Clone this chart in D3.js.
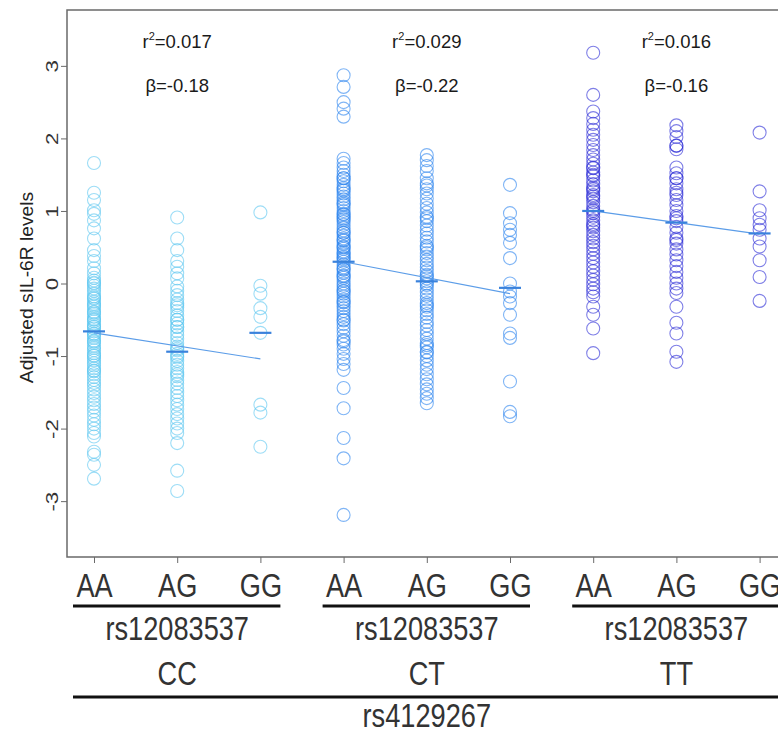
<!DOCTYPE html>
<html>
<head>
<meta charset="utf-8">
<script src="https://cdn.jsdelivr.net/npm/d3@7"></script>
<style>
  body { margin: 0; background: #fff; }
  svg { display: block; }
</style>
</head>
<body>
<div id="chart"></div>
<script>
// rs4129267 groups, rs12083537 genotypes inside each group
const groups = ["CC", "CT", "TT"];
const genotypes = ["AA", "AG", "GG"];
const yTicks = [-3, -2, -1, 0, 1, 2, 3];

// adjusted sIL-6R levels
const ccAA = [1.66, 1.25, 1.15, 1.01, 0.96, 0.87, 0.76, 0.62, 0.46, 0.38, 0.31, 0.21, 0.14,
  0.08, 0.04, 0.01, -0.03, -0.07, -0.10, -0.14, -0.18, -0.21, -0.25, -0.28, -0.32, -0.35, -0.39,
  -0.42, -0.46, -0.49, -0.52, -0.56, -0.59, -0.62, -0.66, -0.69, -0.72, -0.75, -0.79, -0.82, -0.86,
  -0.89, -0.92, -0.96, -0.99, -1.03, -1.06, -1.10, -1.13, -1.17, -1.21, -1.25, -1.29, -1.33, -1.37,
  -1.41, -1.46, -1.51, -1.56, -1.61, -1.66, -1.71, -1.76, -1.82, -1.88, -1.94, -2.00, -2.06, -2.11,
  -2.32, -2.36, -2.50, -2.69, 0.0, -0.3, -0.5, -0.7, -0.6, -0.2, -0.4, -0.8, -1.0, -1.2];
const ccAG = [0.91, 0.62, 0.46, 0.31, 0.23, 0.14, 0.07, -0.04, -0.10, -0.16, -0.22, -0.27, -0.33,
  -0.38, -0.44, -0.50, -0.55, -0.60, -0.66, -0.71, -0.76, -0.82, -0.87, -0.92, -0.97, -1.02, -1.07,
  -1.12, -1.17, -1.22, -1.28, -1.33, -1.38, -1.44, -1.50, -1.55, -1.61, -1.67, -1.73, -1.80, -1.86,
  -1.93, -2.00, -2.06, -2.20, -2.58, -2.86, -0.3, -0.6, -0.9, -1.25, -1.0, -0.5];
const ccGG = [0.98, -0.03, -0.14, -0.34, -0.46, -0.68, -1.67, -1.78, -2.25];

const ctAA = [2.87, 2.71, 2.50, 2.41, 2.30, 1.72, 1.66, 1.60, 1.55, 1.50, 1.45, 1.41, 1.36, 1.32,
  1.28, 1.24, 1.20, 1.16, 1.12, 1.08, 1.04, 1.00, 0.96, 0.92, 0.88, 0.85, 0.81, 0.77, 0.73, 0.70,
  0.66, 0.62, 0.59, 0.55, 0.51, 0.48, 0.44, 0.40, 0.37, 0.33, 0.30, 0.26, 0.22, 0.19, 0.15, 0.11,
  0.08, 0.04, 0.00, -0.03, -0.07, -0.11, -0.14, -0.18, -0.22, -0.26, -0.30, -0.34, -0.38, -0.42,
  -0.46, -0.51, -0.56, -0.61, -0.66, -0.72, -0.78, -0.84, -0.90, -0.97, -1.04, -1.11, -1.19, -1.44,
  -1.72, -2.13, -2.41, -3.19, 0.5, 0.9, 1.3, 0.2, -0.1, 0.7, 1.1, 0.35, -0.5, -0.8, 0.6, 0.1,
  1.45, 0.95, -0.25, 0.42];
const ctAG = [1.77, 1.70, 1.62, 1.55, 1.45, 1.38, 1.30, 1.24, 1.17, 1.10, 1.04, 0.98, 0.92, 0.86,
  0.80, 0.74, 0.69, 0.63, 0.58, 0.52, 0.47, 0.42, 0.37, 0.32, 0.27, 0.22, 0.17, 0.12, 0.07, 0.03,
  -0.02, -0.07, -0.12, -0.17, -0.22, -0.27, -0.32, -0.37, -0.42, -0.47, -0.53, -0.58, -0.64, -0.70,
  -0.76, -0.82, -0.88, -0.94, -1.00, -1.06, -1.12, -1.18, -1.25, -1.32, -1.39, -1.46, -1.52, -1.58,
  -1.65, 1.35, 0.9, 0.5, 0.1, -0.3, -0.85, -0.95, 0.0];
const ctGG = [1.36, 0.97, 0.83, 0.74, 0.67, 0.56, 0.35, 0.00, -0.11, -0.18, -0.27, -0.43, -0.69,
  -0.75, -1.35, -1.77, -1.83];

const ttAA = [3.18, 2.60, 2.37, 2.28, 2.20, 2.12, 2.05, 1.98, 1.91, 1.84, 1.77, 1.71, 1.65, 1.59,
  1.53, 1.48, 1.42, 1.37, 1.32, 1.27, 1.22, 1.17, 1.12, 1.07, 1.02, 0.97, 0.92, 0.87, 0.82, 0.77,
  0.72, 0.67, 0.62, 0.57, 0.52, 0.47, 0.41, 0.35, 0.29, 0.23, 0.17, 0.11, 0.05, -0.01, -0.07, -0.12,
  -0.18, -0.32, -0.43, -0.62, -0.96, 1.3, 1.5, 1.0, 0.8, 1.6, 1.2];
const ttAG = [2.18, 2.10, 2.02, 1.90, 1.85, 1.60, 1.52, 1.45, 1.38, 1.30, 1.22, 1.15, 1.08, 1.00,
  0.93, 0.86, 0.78, 0.70, 0.62, 0.55, 0.47, 0.40, 0.32, 0.24, 0.16, 0.08, 0.00, -0.07, -0.13, -0.32,
  -0.54, -0.69, -0.94, -1.08, 1.9, 1.45, 0.6, 0.9, 1.25];
const ttGG = [2.08, 1.27, 1.01, 0.90, 0.81, 0.74, 0.62, 0.51, 0.32, 0.09, -0.24];

const groupValues = [[ccAA, ccAG, ccGG], [ctAA, ctAG, ctGG], [ttAA, ttAG, ttGG]];
const groupMeans = [[-0.66, -0.94, -0.68], [0.30, 0.03, -0.06], [1.00, 0.84, 0.69]];
const fitAtAA = [-0.68, 0.30, 1.00];
const betas = [-0.18, -0.22, -0.16];
const r2Labels = ["0.017", "0.029", "0.016"];
const betaLabels = ["-0.18", "-0.22", "-0.16"];
const groupColors = ["#5cc6f0", "#2b84ee", "#2a2ad6"];

const W = 778, H = 732;
const svg = d3.select("#chart").append("svg").attr("width", W).attr("height", H);

const plotLeft = 67, plotTop = 10, plotBottom = 557;
const x = d3.scaleLinear().domain([1, 9]).range([94, 759.6]);
const y = d3.scaleLinear().domain([-3.77, 3.77]).range([plotBottom, plotTop]);
const pos = (g, k) => g * 3 + k + 1;
const sans = "Liberation Sans, Arial, sans-serif";

// points
groupValues.forEach((cols, g) => {
  cols.forEach((vals, k) => {
    svg.append("g").selectAll("circle").data(vals).join("circle")
      .attr("cx", x(pos(g, k)))
      .attr("cy", d => y(d))
      .attr("r", 6.5)
      .attr("fill", "none")
      .attr("stroke", groupColors[g])
      .attr("stroke-opacity", 0.6)
      .attr("stroke-width", 1.1);
  });
});

// regression lines and means
groups.forEach((name, g) => {
  svg.append("line")
    .attr("x1", x(pos(g, 0))).attr("x2", x(pos(g, 2)))
    .attr("y1", y(fitAtAA[g])).attr("y2", y(fitAtAA[g] + 2 * betas[g]))
    .attr("stroke", "#5c9de8").attr("stroke-width", 1.2);
  groupMeans[g].forEach((m, k) => {
    svg.append("line")
      .attr("x1", x(pos(g, k)) - 11).attr("x2", x(pos(g, k)) + 11)
      .attr("y1", y(m)).attr("y2", y(m))
      .attr("stroke", "#3a82dc").attr("stroke-width", 2.2);
  });
  const t = svg.append("text")
    .attr("x", x(pos(g, 1))).attr("y", 48)
    .attr("text-anchor", "middle")
    .attr("font-family", sans)
    .attr("font-size", 18.5).attr("fill", "#1a1a1a");
  t.append("tspan").text("r");
  t.append("tspan").attr("font-size", 11).attr("dy", -8).text("2");
  t.append("tspan").attr("dy", 8).text("=" + r2Labels[g]);
  svg.append("text")
    .attr("x", x(pos(g, 1))).attr("y", 92)
    .attr("text-anchor", "middle")
    .attr("font-family", sans)
    .attr("font-size", 18.5).attr("fill", "#1a1a1a")
    .text("\u03b2=" + betaLabels[g]);
});

// frame
svg.append("path")
  .attr("d", `M${W + 20},${plotTop}H${plotLeft}V${plotBottom}H${W + 20}`)
  .attr("fill", "none").attr("stroke", "#6a6a6a").attr("stroke-width", 1.5);

// y axis
const yAxis = svg.append("g")
  .attr("transform", `translate(${plotLeft},0)`)
  .call(d3.axisLeft(y).tickValues(yTicks).tickSize(6).tickSizeOuter(0).tickFormat(d => String(d)));
yAxis.select(".domain").remove();
yAxis.selectAll("line").attr("stroke", "#6a6a6a");
yAxis.selectAll("text")
  .attr("x", null).attr("dy", null)
  .attr("text-anchor", "middle")
  .attr("transform", "translate(-9,0) rotate(-90) scale(1.35,1)")
  .attr("font-family", sans)
  .attr("font-size", 16.5).attr("fill", "#333");

svg.append("text")
  .attr("transform", `translate(33,${(plotTop + plotBottom) / 2 + 4}) rotate(-90) scale(1.1,1)`)
  .attr("text-anchor", "middle")
  .attr("font-family", sans)
  .attr("font-size", 17.5).attr("fill", "#222")
  .text("Adjusted sIL-6R levels");

// x axis (condensed look: regular sans squeezed horizontally)
const squeeze = 0.8;
const xAxis = svg.append("g")
  .attr("transform", `translate(0,${plotBottom})`)
  .call(d3.axisBottom(x).tickValues(d3.range(1, 10)).tickSize(6).tickSizeOuter(0)
    .tickFormat(i => genotypes[(i - 1) % 3]));
xAxis.select(".domain").remove();
xAxis.selectAll("line").attr("stroke", "#6a6a6a");
xAxis.selectAll("text")
  .attr("y", null).attr("dy", null)
  .attr("transform", `translate(0,40) scale(${squeeze},1)`)
  .attr("font-family", sans)
  .attr("font-size", 34).attr("fill", "#333");

function bigLabel(cx, cy, txt) {
  svg.append("text")
    .attr("transform", `translate(${cx},${cy}) scale(${squeeze},1)`)
    .attr("text-anchor", "middle").attr("font-family", sans)
    .attr("font-size", 34).attr("fill", "#333")
    .text(txt);
}

groups.forEach((name, g) => {
  svg.append("line")
    .attr("x1", x(pos(g, 0)) - 21).attr("x2", x(pos(g, 2)) + 20)
    .attr("y1", 606).attr("y2", 606)
    .attr("stroke", "#111").attr("stroke-width", 3);
  bigLabel(x(pos(g, 1)), 640, "rs12083537");
  bigLabel(x(pos(g, 1)), 685, name);
});
svg.append("line")
  .attr("x1", x(1) - 21).attr("x2", W + 20)
  .attr("y1", 697).attr("y2", 697)
  .attr("stroke", "#111").attr("stroke-width", 3);
bigLabel(x(5), 727, "rs4129267");
</script>
</body>
</html>
